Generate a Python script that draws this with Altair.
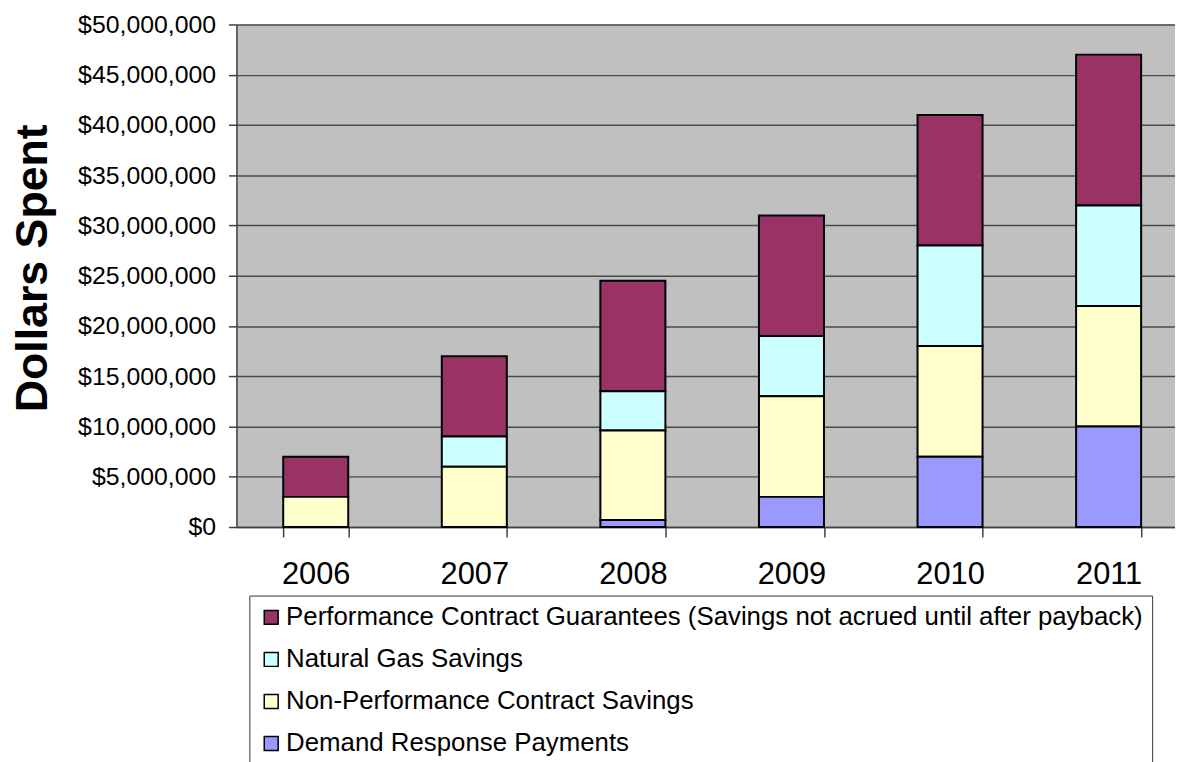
import altair as alt
import pandas as pd

years = ["2006", "2007", "2008", "2009", "2010", "2011"]
series = [
    "Performance Contract Guarantees (Savings not acrued until after payback)",
    "Natural Gas Savings",
    "Non-Performance Contract Savings",
    "Demand Response Payments",
]
colors = ["#993366", "#CCFFFF", "#FFFFCC", "#9999FF"]

performance = [4000000, 8000000, 11000000, 12000000, 13000000, 15000000]
natural_gas = [0, 3000000, 3900000, 6000000, 10000000, 10000000]
non_performance = [3000000, 6000000, 8900000, 10000000, 11000000, 12000000]
demand_response = [0, 0, 700000, 3000000, 7000000, 10000000]

y_ticks = [0, 5000000, 10000000, 15000000, 20000000, 25000000,
           30000000, 35000000, 40000000, 45000000, 50000000]

values_by_series = [performance, natural_gas, non_performance, demand_response]
stack_rank = [3, 2, 1, 0]  # bottom of stack = 0

rows = []
for s, vals, rk in zip(series, values_by_series, stack_rank):
    for yr, v in zip(years, vals):
        rows.append({"year": yr, "series": s, "value": v, "rank": rk})
df = pd.DataFrame(rows)

FONT = "Liberation Sans"

chart = alt.Chart(df).mark_bar(stroke="black", strokeWidth=2).encode(
    x=alt.X(
        "year:N",
        sort=years,
        scale=alt.Scale(paddingInner=0.59, paddingOuter=0.295),
        axis=alt.Axis(
            title=None, labelAngle=0, labelFontSize=31, labelPadding=23,
            tickSize=10, tickBand="extent", domainColor="#404040",
            tickColor="#404040", domainWidth=1.5, tickWidth=1.5,
            labelColor="#000000", grid=False, labelFont=FONT,
        ),
    ),
    y=alt.Y(
        "value:Q",
        stack="zero",
        scale=alt.Scale(domain=[0, 50000000], nice=False),
        axis=alt.Axis(
            values=y_ticks, format="$,.0f", title="Dollars Spent",
            labelFontSize=25, labelPadding=13, labelFont=FONT, labelColor="#000000",
            tickSize=8, tickColor="#404040", tickWidth=1.5,
            domainColor="#404040", domainWidth=1.5,
            gridColor="#4a4a4a", gridWidth=1.5,
            titleFont=FONT, titleFontSize=45, titleFontWeight="bold",
            titleColor="#000000", titleX=-205, titleY=245,
            titleAlign="center", titleBaseline="middle", titleAngle=-90,
        ),
    ),
    color=alt.Color(
        "series:N",
        scale=alt.Scale(domain=series, range=colors),
        legend=alt.Legend(
            title=None, orient="none", legendX=13, legendY=575,
            strokeColor="#333333", fillColor="#FFFFFF", padding=9,
            symbolType="square", symbolSize=196, symbolStrokeColor="#000000",
            symbolStrokeWidth=1.5, labelFontSize=26, labelFont=FONT,
            labelColor="#000000", labelLimit=2000, labelOffset=2,
            rowPadding=16.3,
        ),
    ),
    order=alt.Order("rank:Q", sort="ascending"),
).properties(
    width=958,
    height=506,
    autosize=alt.AutoSizeParams(type="none"),
    padding={"left": 230, "top": 14, "right": -13, "bottom": 234},
    background="#FFFFFF",
).configure_view(
    fill="#C0C0C0", strokeWidth=0,
)

chart.save("out.html", embed_options={"renderer": "svg", "actions": False})
